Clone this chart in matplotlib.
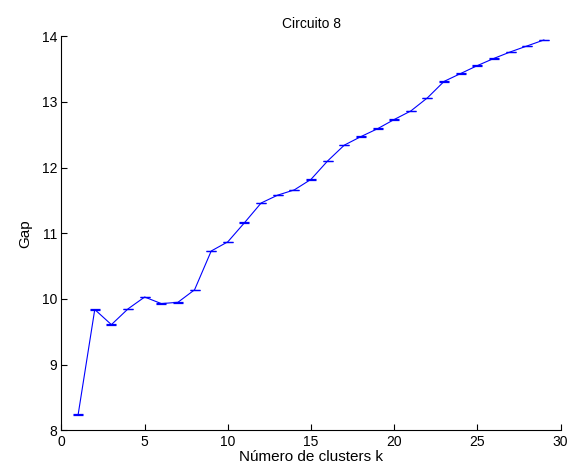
import numpy as np
import matplotlib.pyplot as plt

plt.rcParams['font.family'] = ['Liberation Sans', 'DejaVu Sans']

# gap statistic per number of clusters
k = list(range(1, 30))
gap = [8.24, 9.84, 9.61, 9.85, 10.03, 9.93, 9.95, 10.14, 10.73, 10.87,
       11.16, 11.46, 11.58, 11.66, 11.82, 12.10, 12.34, 12.47, 12.59, 12.73,
       12.86, 13.06, 13.31, 13.43, 13.55, 13.66, 13.76, 13.85, 13.94]
gap_err = [0.004] * 29

fig = plt.figure(figsize=(5.84, 4.74), dpi=100)
ax = fig.add_axes([0.1053, 0.0918, 0.8545, 0.8322])
ax.errorbar(k, gap, yerr=gap_err, color='blue', linewidth=0.8,
            elinewidth=0.8, capsize=3.4, capthick=0.9)

ax.set_xlim(0, 30)
ax.set_ylim(8, 14)
ax.set_xticks([0, 5, 10, 15, 20, 25, 30])
ax.set_yticks([8, 9, 10, 11, 12, 13, 14])
ax.spines['top'].set_visible(False)
ax.spines['right'].set_visible(False)
ax.tick_params(direction='in', length=4, labelsize=10, pad=3)
ax.set_title('Circuito 8', fontsize=10)
ax.set_xlabel('Número de clusters k', fontsize=11, labelpad=1)
ax.set_ylabel('Gap', fontsize=11, labelpad=7)

plt.savefig('out.png', dpi=100)
